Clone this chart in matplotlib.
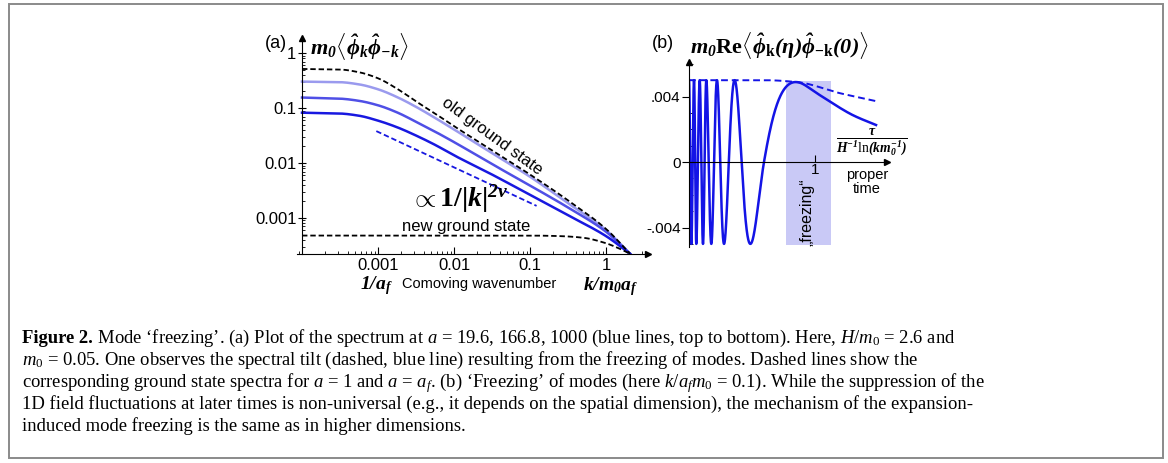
import numpy as np
import matplotlib
matplotlib.use('Agg')
import matplotlib.pyplot as plt
from matplotlib.patches import Rectangle
from matplotlib.ticker import NullFormatter, FixedLocator

plt.rcParams['font.family'] = ['Liberation Sans', 'DejaVu Sans']
plt.rcParams['mathtext.fontset'] = 'custom'
plt.rcParams['mathtext.rm'] = 'Liberation Serif'
plt.rcParams['mathtext.it'] = 'Liberation Serif:italic'
plt.rcParams['mathtext.bf'] = 'Liberation Serif:bold:italic'
plt.rcParams['mathtext.sf'] = 'Liberation Serif:bold'

# (a) spectre
k = [1e-4, 3.16e-4, 5.62e-4, 1e-3, 1.78e-3, 3.16e-3, 5.62e-3, 1e-2, 3.16e-2, 0.1, 0.316, 1, 2.07]
old_gs = [0.513, 0.501, 0.447, 0.347, 0.224, 0.132, 0.0794, 0.0468, 0.0170, 0.00617, 0.00209, 0.000631, 0.000224]
spec_a20 = [0.302, 0.295, 0.269, 0.219, 0.158, 0.105, 0.0661, 0.0407, 0.0151, 0.00562, 0.00186, 0.000603, 0.000224]
spec_a167 = [0.155, 0.148, 0.135, 0.112, 0.0832, 0.0562, 0.0372, 0.0240, 0.00955, 0.00389, 0.00155, 0.000562, 0.000224]
spec_a1000 = [0.0822, 0.0794, 0.0724, 0.0589, 0.0447, 0.0316, 0.0214, 0.0138, 0.00617, 0.00263, 0.00112, 0.000468, 0.000224]
k_new = [1e-4, 0.1, 0.251, 0.501, 1, 1.41, 2.07]
new_gs = [4.79e-4, 4.79e-4, 4.68e-4, 4.37e-4, 3.47e-4, 2.88e-4, 2.24e-4]
k_tilt = [9.5e-4, 0.122]
tilt = [0.038, 0.00166]

# (b) oscillation : extrema / zeros (phase en unites de pi)
t_phase = [0, 0.0185, 0.0397, 0.058, 0.0847, 0.111, 0.1376, 0.177, 0.222, 0.278, 0.362, 0.487,
           0.595, 0.857, 0.984, 1.12, 1.30, 1.484]
phase = [-12, -11, -10, -9, -8, -7, -6, -5, -4, -3, -2, -1, -0.5, 0, 0.12, 0.18, 0.248, 0.292]
env_t = [0, 0.6, 0.86, 1.2, 1.484]
env_v = [0.005, 0.005, 0.00488, 0.0042, 0.00372]
freeze_zone = [0.77, 1.125]


def lisse(x, y, xn):
    # interpolation monotone (type pchip) pour tracer une courbe lisse
    x = np.asarray(x, float)
    y = np.asarray(y, float)
    h = np.diff(x)
    d = np.diff(y) / h
    m = np.zeros_like(y)
    for i in range(1, len(y) - 1):
        if d[i - 1] * d[i] > 0:
            w1 = 2 * h[i] + h[i - 1]
            w2 = h[i] + 2 * h[i - 1]
            m[i] = (w1 + w2) / (w1 / d[i - 1] + w2 / d[i])
    m[0] = d[0]
    m[-1] = d[-1]
    idx = np.clip(np.searchsorted(x, xn) - 1, 0, len(h) - 1)
    t = (xn - x[idx]) / h[idx]
    h00 = 2 * t**3 - 3 * t**2 + 1
    h10 = t**3 - 2 * t**2 + t
    h01 = -2 * t**3 + 3 * t**2
    h11 = t**3 - t**2
    return h00 * y[idx] + h10 * h[idx] * m[idx] + h01 * y[idx + 1] + h11 * h[idx] * m[idx + 1]


def loglisse(x, y, n=400):
    lx = np.log10(x)
    ly = np.log10(y)
    xn = np.linspace(lx[0], lx[-1], n)
    return 10**xn, 10**lisse(lx, ly, xn)


W, H = 1168, 463


def P(x, y):
    return x / W, 1 - y / H


fig = plt.figure(figsize=(W / 100, H / 100), dpi=100)
fig.add_artist(Rectangle(P(9, 458), (1163 - 9) / W, (458 - 4) / H, transform=fig.transFigure,
                         fill=False, ec='#8a8a8a', lw=1.4))

# ---------- panneau (a)
ax = fig.add_axes([297 / W, 1 - 254 / H, (648 - 297) / W, (254 - 38) / H])
ax.set_xscale('log')
ax.set_yscale('log')
ax.set_xlim(10**(-4 - 5 / 76), 10**0.552)
ax.set_ylim(10**-3.655, 10**0.273)
for s in ['top', 'right']:
    ax.spines[s].set_visible(False)
ax.spines['left'].set_position(('data', 1e-4))
ax.plot(1, 0, '>k', ms=4, transform=ax.transAxes, clip_on=False)
ax.plot(1e-4, 1, '^k', ms=4, transform=ax.get_xaxis_transform(), clip_on=False)

ax.plot(*loglisse(k, old_gs), ls=(0, (3, 1.6)), color='black', lw=1.3, zorder=4)
ax.plot(*loglisse(k, spec_a20), color='#9a9aee', lw=1.8)
ax.plot(*loglisse(k, spec_a167), color='#4f4fe6', lw=1.8)
ax.plot(*loglisse(k, spec_a1000), color='#1818e0', lw=1.8)
ax.plot(*loglisse(k_new, new_gs), ls=(0, (3, 1.6)), color='black', lw=1.3)
ax.plot(k_tilt, tilt, ls=(0, (3, 1.6)), color='#1818e0', lw=1.3)

ax.xaxis.set_major_locator(FixedLocator([1e-3, 1e-2, 1e-1, 1]))
ax.set_xticklabels(['0.001', '0.01', '0.1', '1'])
ax.yaxis.set_major_locator(FixedLocator([1e-3, 1e-2, 1e-1, 1]))
ax.set_yticklabels(['0.001', '0.01', '0.1', '1'])
ax.xaxis.set_minor_formatter(NullFormatter())
ax.yaxis.set_minor_formatter(NullFormatter())
ax.tick_params(axis='x', which='major', direction='in', length=5, pad=3, labelsize=12)
ax.tick_params(axis='x', which='minor', direction='in', length=2.5)
ax.tick_params(axis='y', which='major', direction='inout', length=6, pad=1, labelsize=12)
ax.tick_params(axis='y', which='minor', direction='in', length=2.5)

fig.text(*P(276, 43), '(a)', fontsize=13, ha='center', va='center')
fig.text(*P(310, 47), r'$\mathbf{m_0\langle\hat{\phi}_k\hat{\phi}_{-k}\rangle}$', fontsize=16,
         ha='left', va='center')
fig.text(*P(492, 136), 'old ground state', fontsize=12, rotation=-36, ha='center', va='center',
         rotation_mode='anchor')
fig.text(*P(466, 227), 'new ground state', fontsize=12, ha='center', va='center')
fig.text(*P(459, 199), r'$\propto\mathsf{1/|}\mathbf{k}\mathsf{|}^{\mathbf{2\nu}}$', fontsize=20,
         ha='center', va='center')
fig.text(*P(376, 286), r'$\mathbf{1/a_f}$', fontsize=14, ha='center', va='center')
fig.text(*P(479, 284), 'Comoving wavenumber', fontsize=10.5, ha='center', va='center')
fig.text(*P(611, 287), r'$\mathbf{k/m_0a_f}$', fontsize=14, ha='center', va='center')

# ---------- panneau (b)
bx = fig.add_axes([689 / W, 1 - 247 / H, (887 - 689) / W, (247 - 62) / H])
bx.set_xlim(0, 1.571)
bx.set_ylim(-0.00519, 0.00611)
for s in ['top', 'right']:
    bx.spines[s].set_visible(False)
bx.spines['bottom'].set_position(('data', 0))
bx.plot(1, 0, '>k', ms=4, transform=bx.get_yaxis_transform(), clip_on=False)
bx.plot(0, 1, '^k', ms=4, transform=bx.get_xaxis_transform(), clip_on=False)

bx.fill_between(freeze_zone, -0.00507, 0.00496, color='#c9c9f6', lw=0, zorder=0)
tn = np.linspace(t_phase[0], t_phase[-1], 4000)
env = lisse(env_t, env_v, tn)
bx.plot(tn, env * np.cos(np.pi * lisse(t_phase, phase, tn)), color='#1414e6', lw=1.8)
bx.plot(tn, env, ls=(0, (3.5, 2)), color='#1414e6', lw=1.4)

bx.set_yticks([-0.004, 0, 0.004])
bx.set_yticklabels(['-.004', '0', '.004'])
bx.yaxis.set_minor_locator(FixedLocator(np.arange(-5, 7) * 0.001))
bx.set_xticks([1])
bx.set_xticklabels(['1'])
bx.tick_params(axis='y', which='major', direction='out', length=5, pad=1, labelsize=11)
bx.tick_params(axis='y', which='minor', direction='in', length=3)
bx.tick_params(axis='x', which='major', direction='in', length=5, pad=1, labelsize=11)

fig.text(*P(663, 43), '(b)', fontsize=13, ha='center', va='center')
fig.text(*P(690, 46), r'$\mathbf{m_0}\mathsf{Re}\mathbf{\langle\hat{\phi}}_\mathsf{k}'
         r'\mathbf{(\eta)\hat{\phi}}_{\mathsf{-k}}\mathbf{(0)\rangle}$', fontsize=16,
         ha='left', va='center')
fig.text(*P(872, 142), r'$\mathbf{\frac{\tau}{H^{-1}\ln(km_0^{-1})}}$', fontsize=14,
         ha='center', va='center')
fig.text(*P(867, 182), 'proper\ntime', fontsize=10.5, ha='center', va='center', linespacing=1.0)
fig.text(*P(807, 212), '\u201efreezing\u201c', fontsize=11.5, rotation=90, ha='center', va='center')

# ---------- legende
cap_size = 13.4
lignes = [
    ' Mode \u2018freezing\u2019. (a) Plot of the spectrum at $a$ = 19.6, 166.8, 1000 (blue lines, '
    'top to bottom). Here, $H/m_0$ = 2.6 and',
    '$m_0$ = 0.05. One observes the spectral tilt (dashed, blue line) resulting from the freezing '
    'of modes. Dashed lines show the',
    'corresponding ground state spectra for $a$ = 1 and $a$ = $a_f$. (b) \u2018Freezing\u2019 of modes '
    '(here $k/a_fm_0$ = 0.1). While the suppression of the',
    '1D field fluctuations at later times is non-universal (e.g., it depends on the spatial '
    'dimension), the mechanism of the expansion-',
    'induced mode freezing is the same as in higher dimensions.',
]
t0 = fig.text(*P(22, 343), 'Figure 2.', fontsize=cap_size, fontweight='bold',
              family='Liberation Serif', va='baseline')
fig.canvas.draw()
x_suite = t0.get_window_extent().x1
for i, ligne in enumerate(lignes):
    x0 = x_suite if i == 0 else 22
    fig.text(x0 / W, 1 - (343 + 22 * i) / H, ligne, fontsize=cap_size, family='Liberation Serif',
             va='baseline')

fig.savefig('out.png', dpi=100)
